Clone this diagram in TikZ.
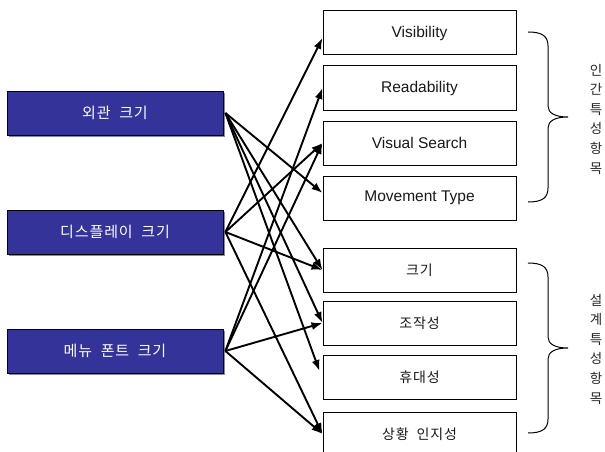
\documentclass[tikz,border=0pt]{standalone}
\usepackage{fontspec}
\setmainfont{Liberation Sans}
\newfontfamily\kr[WordSpace=2]{Noto Sans CJK KR}
\newfontfamily\krwide[WordSpace=2,LetterSpace=6]{Noto Sans CJK KR}
\usetikzlibrary{arrows.meta,shadows}
\definecolor{navy}{HTML}{333399}
\begin{document}
\begin{tikzpicture}[x=1pt,y=-1pt,
  srcbox/.style={draw=black,line width=0.8pt,fill=navy,minimum width=216pt,minimum height=44pt,inner sep=0pt,
    text=white,font=\krwide\fontsize{15}{15}\selectfont,
    drop shadow={shadow xshift=1.5pt,shadow yshift=-1.5pt,fill=black!45,opacity=1}},
  tgtbox/.style={draw=black,line width=1pt,fill=white,minimum width=193pt,minimum height=44pt,inner sep=0pt,
    text=black!90,font=\fontsize{15.5}{16}\selectfont},
  krtgt/.style={tgtbox,font=\krwide\fontsize{14}{14}\selectfont},
  vtext/.style={align=center,inner sep=0pt,text=black!85,font=\kr\fontsize{13.5}{19.6}\selectfont},
  arr/.style={draw=black,line width=1.9pt,-{Latex[length=11pt,width=8pt]}},
  brace/.style={draw=black,line width=1pt}]
\clip (0,0) rectangle (605,452);
\useasboundingbox (0,0) rectangle (605,452);

% left source boxes
\node[srcbox] (a) at (115,113) {외관 크기};
\node[srcbox] (b) at (115,232) {디스플레이 크기};
\node[srcbox] (c) at (115,351) {메뉴 폰트 크기};

% right target boxes
\node[tgtbox] (vis) at (419.5,33) {Visibility};
\node[tgtbox] (rea) at (419.5,88) {Readability};
\node[tgtbox] (vsr) at (419.5,143) {Visual Search};
\node[tgtbox] (mov) at (419.5,198) {Movement Type};
\node[krtgt] (siz) at (419.5,270) {크기};
\node[krtgt] (ope) at (419.5,323) {조작성};
\node[krtgt] (por) at (419.5,377) {휴대성};
\node[krtgt] (sit) at (419.5,434) {상황 인지성};

% arrows
\draw[arr] ([xshift=2pt]a.east) -- ([yshift=5pt]mov.west);
\draw[arr] ([xshift=2pt]a.east) -- (siz.west);
\draw[arr] ([xshift=2pt]a.east) -- (ope.west);
\draw[arr] ([xshift=2pt]a.east) -- ([xshift=-3pt,yshift=6pt]por.west);

\draw[arr] ([xshift=2pt]b.east) -- ([yshift=-5pt]vis.west);
\draw[arr] ([xshift=2pt]b.east) -- (vsr.west);
\draw[arr] ([xshift=2pt]b.east) -- (siz.west);
\draw[arr] ([xshift=2pt]b.east) -- (sit.west);

\draw[arr] ([xshift=2pt]c.east) -- (rea.west);
\draw[arr] ([xshift=2pt]c.east) -- (vsr.west);
\draw[arr] ([xshift=2pt]c.east) -- (ope.west);
\draw[arr] ([xshift=2pt]c.east) -- (sit.west);

% braces
\draw[brace] (528,32) .. controls (542,32) and (548,36) .. (548,46) -- (548,106)
  .. controls (548,113) and (555,117) .. (568,117)
  .. controls (555,117) and (548,121) .. (548,128) -- (548,188)
  .. controls (548,198) and (542,202) .. (528,202);
\draw[brace] (528,263) .. controls (542,263) and (548,267) .. (548,277) -- (548,337)
  .. controls (548,344) and (555,348) .. (568,348)
  .. controls (555,348) and (548,352) .. (548,359) -- (548,419)
  .. controls (548,429) and (542,433) .. (528,433);

% vertical labels
\node[vtext] (hum) at (596,119) {인\\간\\특\\성\\항\\목};
\node[vtext] (des) at (596,349) {설\\계\\특\\성\\항\\목};
\end{tikzpicture}
\end{document}
